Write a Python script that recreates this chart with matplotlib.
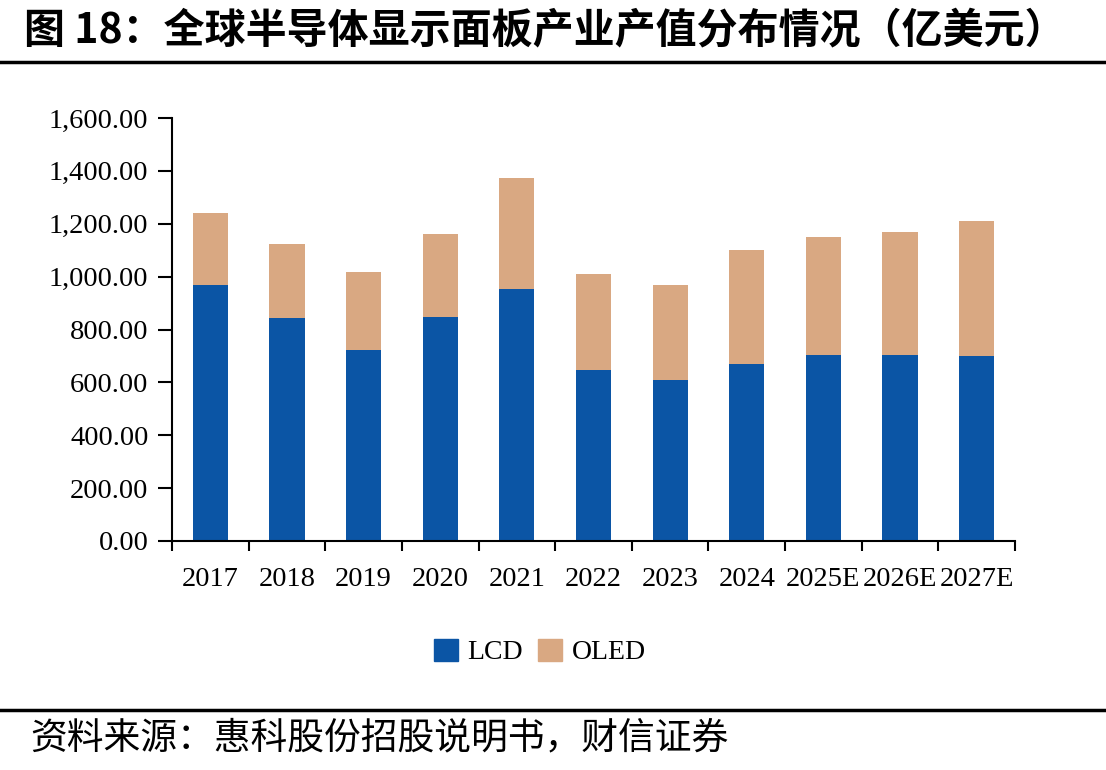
import matplotlib
matplotlib.use("Agg")
import matplotlib.pyplot as plt
from matplotlib.patches import Patch
import numpy as np

categories = ["2017", "2018", "2019", "2020", "2021", "2022", "2023", "2024", "2025E", "2026E", "2027E"]
lcd = [968, 842, 721, 847, 953, 646, 610, 671, 702, 704, 699]
total = [1242, 1124, 1019, 1161, 1373, 1010, 968, 1101, 1150, 1169, 1212]
oled = [t - l for t, l in zip(total, lcd)]
yticks = [0, 200, 400, 600, 800, 1000, 1200, 1400, 1600]

c_lcd = "#0B55A5"
c_oled = "#D9A882"
serif = ["Liberation Serif", "DejaVu Serif"]
cjk = ["Noto Sans CJK SC", "DejaVu Sans"]

fig = plt.figure(figsize=(11.06, 7.7), dpi=100)
ax = fig.add_axes([172/1106, 1-541/770, (1015-172)/1106, (541-118)/770])

x = np.arange(len(categories))
ax.bar(x, lcd, width=0.46, color=c_lcd, label="LCD")
ax.bar(x, oled, width=0.46, bottom=lcd, color=c_oled, label="OLED")

ax.set_xlim(-0.5, len(categories) - 0.5)
ax.set_ylim(0, 1600)
ax.set_yticks(yticks)
ax.set_yticklabels([f"{v:,.2f}" for v in yticks], fontfamily=serif, fontsize=20.5)
ax.set_xticks(x)
ax.set_xticklabels(categories, fontfamily=serif, fontsize=20.5)
ax.tick_params(axis="x", length=0, pad=19)
ax.set_xticks(np.arange(len(categories) + 1) - 0.5, minor=True)
ax.tick_params(axis="x", which="minor", length=7, width=1.5, direction="out")
ax.tick_params(axis="y", length=10, width=1.5, direction="out", pad=7)
for s in ["top", "right"]:
    ax.spines[s].set_visible(False)
for s in ["left", "bottom"]:
    ax.spines[s].set_linewidth(1.5)

handles = [Patch(color=c_lcd, label="LCD"), Patch(color=c_oled, label="OLED")]
fig.legend(handles=handles, loc="center", bbox_to_anchor=(540/1106, 1-652/770), ncol=2,
           frameon=False, prop={"family": serif, "size": 20}, handlelength=0.85, handleheight=0.85,
           handletextpad=0.35, columnspacing=0.55)

fig.text(0.022, 1-30/770, "图 18：全球半导体显示面板产业产值分布情况（亿美元）", fontfamily=cjk,
         fontweight="bold", fontsize=29.5, va="center", ha="left")
fig.add_artist(plt.Line2D([0, 1], [1-62/770, 1-62/770], color="black", lw=2.5, transform=fig.transFigure))
fig.add_artist(plt.Line2D([0, 1], [1-710/770, 1-710/770], color="black", lw=2.5, transform=fig.transFigure))
fig.text(0.027, 1-738/770, "资料来源：惠科股份招股说明书，财信证券", fontfamily=cjk,
         fontsize=26.5, va="center", ha="left", style="italic")

fig.savefig("out.png", dpi=100)
